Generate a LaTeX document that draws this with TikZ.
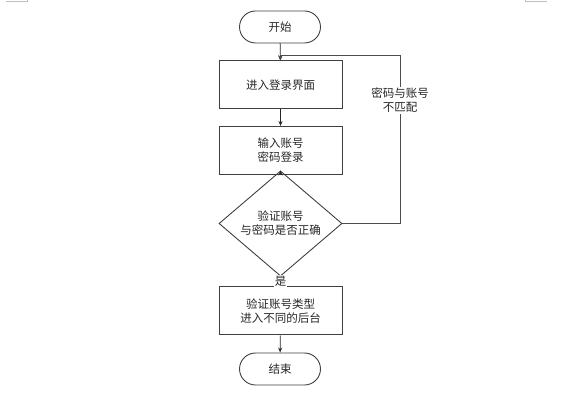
\documentclass[tikz,border=0pt]{standalone}
\usepackage{fontspec}
\setmainfont{Noto Sans CJK SC}
\usepackage{tikz}
\usetikzlibrary{shapes.geometric,arrows.meta}

\begin{document}
\begin{tikzpicture}[
  x=1pt, y=-1pt,
  every node/.style={font=\fontsize{11.5}{14}\selectfont, align=center, text=black!85},
  terminal/.style={draw=black!75, line width=0.9pt, rectangle, rounded corners=16pt, minimum width=81pt, minimum height=32pt, inner sep=0pt},
  process/.style={draw=black!75, line width=1pt, rectangle, minimum width=123pt, minimum height=48pt, inner sep=0pt},
  decision/.style={draw=black!75, line width=0.9pt, diamond, minimum width=123pt, minimum height=75pt, inner sep=0pt},
  flow/.style={draw=black!85, line width=0.8pt, -{Stealth[length=5pt,width=4pt]}},
  edgelabel/.style={fill=white, inner sep=1pt}
]
\useasboundingbox (0,0) rectangle (587,395);

% page corner marks
\draw[black!25, line width=0.8pt] (6,1) -- (27,1) -- (27,0);
\draw[black!25, line width=0.8pt] (547,1) -- (525,1) -- (525,0);

\node[terminal] (start) at (280,27) {开始};
\node[process] (login) at (280.5,85) {进入登录界面};
\node[process] (input) at (280.5,150.5) {输入账号\\密码登录};
\node[decision] (check) at (280.5,223.5) {验证账号\\与密码是否正确};
\node[process] (enter) at (280.5,311) {验证账号类型\\进入不同的后台};
\node[terminal] (stop) at (280,369) {结束};

\coordinate (loopR) at (400,223.5);
\coordinate (loopT) at (400,55);
\coordinate (loopL) at (280.5,55);

\draw[flow] (start) -- (login);
\draw[flow] (login) -- (input);
\draw[flow] (input) -- (check);
\draw[flow] (check) -- node[edgelabel, pos=0.5] {是} (enter);
\draw[flow] (enter) -- (stop);
\draw[flow, draw=black!70] (check.east) -- (loopR) -- node[edgelabel, pos=0.73] {密码与账号\\不匹配} (loopT) -- (loopL) -- (login.north);

\end{tikzpicture}
\end{document}
